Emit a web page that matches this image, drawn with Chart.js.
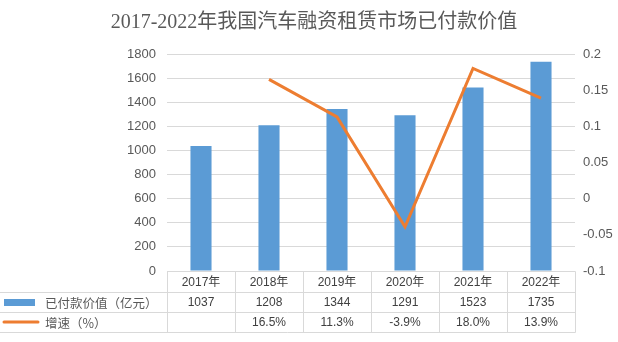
<!DOCTYPE html>
<html>
<head>
<meta charset="utf-8">
<script src="https://cdn.jsdelivr.net/npm/chart.js@4/dist/chart.umd.min.js"></script>
<style>
    body { margin: 0; background: #fff; }
    .chart-box { width: 618px; height: 342px; }
</style>
</head>
<body>
<div class="chart-box"><canvas id="leaseChart"></canvas></div>
<script>
const years = ['2017年', '2018年', '2019年', '2020年', '2021年', '2022年']
const paidValue = [1037, 1208, 1344, 1291, 1523, 1735]
const growthRate = [null, 0.165, 0.113, -0.039, 0.180, 0.139]
const seriesNames = ['已付款价值（亿元）', '增速（%）']

const barColor = '#5B9BD5'
const lineColor = '#ED7D31'
const gridColor = '#D9D9D9'
const textColor = '#595959'

Chart.defaults.font.family = "'Liberation Sans', 'Noto Sans CJK SC', sans-serif"

// Excel style data table under the plot, columns follow the x scale
const dataTablePlugin = {
    id: 'dataTable',
    afterDraw(chart) {
        const { ctx, chartArea } = chart
        const xScale = chart.scales.x
        const colW = (chartArea.right - chartArea.left) / years.length
        const top = chartArea.bottom
        const rowY = [top, top + 21, top + 41, top + 61]
        const crisp = (v) => Math.round(v) + 0.5

        ctx.save()
        ctx.strokeStyle = gridColor
        ctx.lineWidth = 1
        ctx.beginPath()
        ctx.moveTo(crisp(chartArea.left), crisp(rowY[0]))
        ctx.lineTo(crisp(chartArea.right), crisp(rowY[0]))
        for (let i = 1; i < rowY.length; i++) {
            ctx.moveTo(0, crisp(rowY[i]))
            ctx.lineTo(crisp(chartArea.right), crisp(rowY[i]))
        }
        for (let i = 0; i <= years.length; i++) {
            const x = crisp(chartArea.left + i * colW)
            ctx.moveTo(x, crisp(rowY[0]))
            ctx.lineTo(x, crisp(rowY[3]))
        }
        ctx.stroke()

        ctx.font = "12px 'Liberation Sans', 'Noto Sans CJK SC', sans-serif"
        ctx.fillStyle = '#404040'
        ctx.textAlign = 'center'
        ctx.textBaseline = 'middle'
        years.forEach((year, i) => {
            const x = xScale.getPixelForValue(i)
            ctx.fillText(year, x, (rowY[0] + rowY[1]) / 2 + 1)
            ctx.fillText(String(paidValue[i]), x, (rowY[1] + rowY[2]) / 2 + 1)
            if (growthRate[i] !== null) {
                ctx.fillText((growthRate[i] * 100).toFixed(1) + '%', x, (rowY[2] + rowY[3]) / 2 + 1)
            }
        })

        // legend keys
        ctx.fillStyle = barColor
        ctx.fillRect(4, rowY[1] + 7, 31, 7)
        ctx.strokeStyle = lineColor
        ctx.lineWidth = 3
        ctx.lineCap = 'round'
        ctx.beginPath()
        ctx.moveTo(4, (rowY[2] + rowY[3]) / 2)
        ctx.lineTo(38, (rowY[2] + rowY[3]) / 2)
        ctx.stroke()

        ctx.font = "12.5px 'Noto Sans CJK SC', sans-serif"
        ctx.fillStyle = textColor
        ctx.textAlign = 'left'
        ctx.fillText(seriesNames[0], 45, (rowY[1] + rowY[2]) / 2 + 1)
        ctx.fillText(seriesNames[1], 45, (rowY[2] + rowY[3]) / 2 + 1)
        ctx.restore()
    }
}

const chartEl = document.getElementById('leaseChart')

new Chart(chartEl, {
    type: 'bar',
    data: {
        labels: years,
        datasets: [
            {
                type: 'line',
                label: seriesNames[1],
                data: growthRate,
                yAxisID: 'y1',
                borderColor: lineColor,
                backgroundColor: lineColor,
                borderWidth: 3,
                pointRadius: 0,
                tension: 0,
                order: 0
            },
            {
                label: seriesNames[0],
                data: paidValue,
                yAxisID: 'y',
                backgroundColor: barColor,
                categoryPercentage: 1,
                barPercentage: 0.31,
                order: 1
            }
        ]
    },
    options: {
        responsive: true,
        maintainAspectRatio: false,
        animation: false,
        layout: {
            padding: { top: 0, left: 10, right: 0, bottom: 71 }
        },
        plugins: {
            legend: { display: false },
            tooltip: { enabled: false },
            title: {
                display: true,
                text: '2017-2022年我国汽车融资租赁市场已付款价值',
                color: textColor,
                font: { family: "'Liberation Serif', 'Noto Sans CJK SC', serif", size: 20, weight: 'normal' },
                padding: { top: 11, bottom: 19 }
            }
        },
        scales: {
            x: {
                display: false
            },
            y: {
                position: 'left',
                min: 0,
                max: 1800,
                border: { display: false },
                grid: { color: gridColor, drawTicks: false },
                afterFit: (scale) => { scale.width = 157 },
                ticks: {
                    stepSize: 200,
                    padding: 11,
                    color: textColor,
                    font: { size: 13 },
                    callback: (value) => String(value)
                }
            },
            y1: {
                position: 'right',
                min: -0.1,
                max: 0.2,
                border: { display: false },
                grid: { display: false, drawTicks: false },
                afterFit: (scale) => { scale.width = 43 },
                ticks: {
                    stepSize: 0.05,
                    padding: 8,
                    color: textColor,
                    font: { size: 13 },
                    callback: (value) => String(Number(value.toFixed(2)))
                }
            }
        }
    },
    plugins: [dataTablePlugin]
})
</script>
</body>
</html>
